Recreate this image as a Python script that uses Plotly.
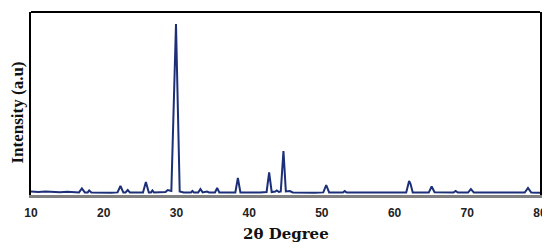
import plotly.graph_objects as go

two_theta = [10.0, 11.0, 12.0, 13.0, 14.0, 15.0, 16.0, 16.6, 17.0, 17.4, 17.8, 18.0, 18.3,
             19.5, 21.0, 21.9, 22.3, 22.7, 23.0, 23.3, 23.6, 25.4, 25.8, 26.2, 26.5, 26.7,
             26.9, 28.5, 28.8, 29.3, 29.94, 30.45, 31.0, 32.0, 32.2, 32.4, 33.0, 33.3, 33.6,
             34.2, 34.5, 35.3, 35.6, 35.9, 37.0, 38.1, 38.45, 38.8, 41.5, 42.4, 42.75, 43.1,
             43.6, 43.8, 44.1, 44.35, 44.72, 45.05, 45.6, 46.0, 49.0, 50.2, 50.6, 51.0, 52.9,
             53.15, 53.4, 55.0, 58.0, 61.6, 62.0, 62.2, 62.5, 64.7, 65.1, 65.5, 68.1, 68.4,
             68.7, 70.1, 70.5, 70.9, 77.9, 78.35, 78.8, 80.0]
intensity = [35, 30, 35, 28, 28, 32, 26, 26, 65, 26, 26, 45, 26,
             22, 22, 26, 90, 26, 26, 50, 26, 26, 130, 26, 26, 45,
             26, 30, 50, 40, 1710, 35, 26, 26, 40, 26, 26, 60, 26,
             35, 26, 26, 70, 26, 26, 26, 170, 26, 26, 30, 225, 30,
             35, 45, 30, 35, 440, 35, 40, 26, 22, 26, 100, 26, 24,
             40, 24, 24, 22, 24, 140, 110, 24, 24, 85, 28, 24, 40,
             24, 24, 60, 24, 24, 70, 24, 22]

x_ticks = [10, 20, 30, 40, 50, 60, 70, 80]

fig = go.Figure()
fig.add_trace(go.Scatter(
    x=two_theta, y=intensity, mode="lines",
    line=dict(color="#1c2f78", width=2),
    showlegend=False,
))

fig.update_layout(
    width=542, height=241,
    margin=dict(l=23, r=10, t=4, b=54),
    paper_bgcolor="white", plot_bgcolor="white",
    xaxis=dict(
        range=[10, 80], tickvals=x_ticks, ticktext=[str(v) for v in x_ticks],
        showgrid=False, zeroline=False,
        showline=True, linecolor="#808080", linewidth=3,
        ticks="", tickfont=dict(family="Liberation Sans", size=12, color="#222222", weight="bold"),
        ticklabelstandoff=5,
    ),
    yaxis=dict(
        range=[0, 1830], showticklabels=False, ticks="",
        showgrid=False, zeroline=False,
        showline=True, linecolor="black", linewidth=2, mirror=True,
    ),
    shapes=[dict(type="line", xref="paper", yref="paper", x0=0, x1=1, y0=1, y1=1,
                 line=dict(color="black", width=2))],
    annotations=[
        dict(text="<b>2θ Degree</b>", xref="paper", yref="paper", x=0.5, y=0,
             yshift=-39, xanchor="center", yanchor="middle", showarrow=False,
             font=dict(family="DejaVu Serif", size=15, color="#111111")),
        dict(text="<b>Intensity (a.u)</b>", xref="paper", yref="paper", x=0, y=0.5,
             xshift=-14, yshift=-9, xanchor="center", yanchor="middle", textangle=-90,
             showarrow=False,
             font=dict(family="Liberation Serif", size=17, color="#111111")),
    ],
)

fig.write_html("out.html")
